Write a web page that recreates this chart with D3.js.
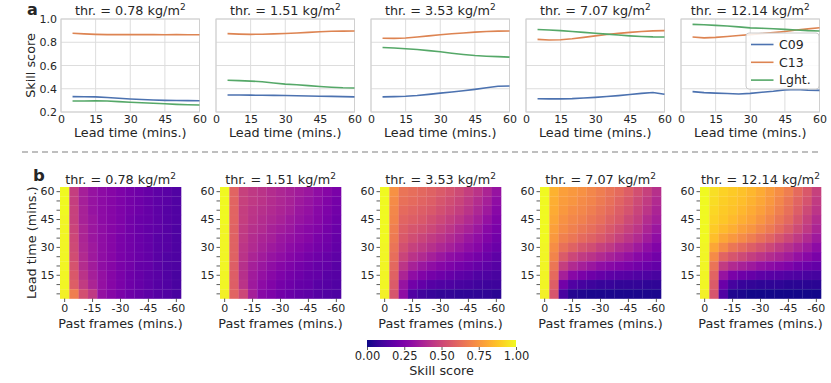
<!DOCTYPE html>
<html><head><meta charset="utf-8">
<script src="https://cdn.jsdelivr.net/npm/d3@7"></script>
<style>
body{margin:0;background:#fff}
text{font-family:"DejaVu Sans",sans-serif;fill:#262626}
</style>
</head><body><svg id="c" width="831" height="383"></svg>
<script>
// ---------- data ----------
const thresholds = ["0.78", "1.51", "3.53", "7.07", "12.14"];
const leadTimes = [5, 10, 15, 20, 25, 30, 35, 40, 45, 50, 55, 60];
const seriesNames = ["C09", "C13", "Lght."];

const c09 = [
  [0.332, 0.331, 0.330, 0.325, 0.318, 0.312, 0.307, 0.303, 0.300, 0.299, 0.298, 0.297],
  [0.346, 0.346, 0.345, 0.344, 0.343, 0.342, 0.340, 0.338, 0.336, 0.334, 0.332, 0.330],
  [0.330, 0.332, 0.335, 0.342, 0.352, 0.362, 0.372, 0.383, 0.395, 0.408, 0.422, 0.424],
  [0.314, 0.313, 0.313, 0.315, 0.320, 0.326, 0.333, 0.341, 0.350, 0.360, 0.368, 0.352],
  [0.375, 0.367, 0.362, 0.359, 0.355, 0.360, 0.370, 0.378, 0.390, 0.394, 0.388, 0.386]
];
const c13 = [
  [0.877, 0.872, 0.868, 0.866, 0.866, 0.866, 0.866, 0.866, 0.865, 0.866, 0.865, 0.864],
  [0.874, 0.870, 0.868, 0.869, 0.872, 0.875, 0.880, 0.885, 0.890, 0.894, 0.896, 0.897],
  [0.835, 0.833, 0.837, 0.845, 0.855, 0.865, 0.873, 0.880, 0.887, 0.892, 0.896, 0.897],
  [0.825, 0.820, 0.822, 0.830, 0.842, 0.855, 0.866, 0.876, 0.885, 0.892, 0.898, 0.900],
  [0.845, 0.838, 0.842, 0.850, 0.858, 0.866, 0.874, 0.883, 0.893, 0.905, 0.915, 0.925]
];
const lght = [
  [0.295, 0.295, 0.296, 0.294, 0.289, 0.284, 0.279, 0.275, 0.271, 0.266, 0.262, 0.260],
  [0.473, 0.470, 0.466, 0.460, 0.450, 0.440, 0.434, 0.427, 0.420, 0.413, 0.408, 0.406],
  [0.755, 0.750, 0.744, 0.737, 0.728, 0.718, 0.706, 0.695, 0.686, 0.680, 0.676, 0.672],
  [0.910, 0.905, 0.900, 0.893, 0.885, 0.877, 0.870, 0.862, 0.855, 0.850, 0.846, 0.845],
  [0.954, 0.950, 0.945, 0.940, 0.932, 0.924, 0.920, 0.916, 0.911, 0.906, 0.900, 0.897]
];

const xTicksTop = [0, 15, 30, 45, 60];
const yTicksTop = [0.2, 0.4, 0.6, 0.8, 1.0];

const pastFrames = [0, -5, -10, -15, -20, -25, -30, -35, -40, -45, -50, -55, -60];
const heatLeads = [60, 55, 50, 45, 40, 35, 30, 25, 20, 15, 10, 5];
const heatTicksX = [0, -15, -30, -45, -60];
const heatTicksY = [15, 30, 45, 60];
const cbarTicks = [0, 0.25, 0.5, 0.75, 1.0];

const heat078 = [
  [1.00, 0.47, 0.36, 0.32, 0.29, 0.27, 0.25, 0.23, 0.21, 0.19, 0.17, 0.16, 0.14],
  [1.00, 0.47, 0.36, 0.32, 0.29, 0.27, 0.25, 0.23, 0.21, 0.19, 0.17, 0.16, 0.14],
  [1.00, 0.48, 0.37, 0.32, 0.29, 0.27, 0.25, 0.23, 0.21, 0.19, 0.17, 0.15, 0.14],
  [0.99, 0.48, 0.37, 0.33, 0.29, 0.27, 0.25, 0.22, 0.20, 0.19, 0.17, 0.15, 0.14],
  [0.99, 0.49, 0.38, 0.33, 0.30, 0.27, 0.25, 0.22, 0.20, 0.18, 0.17, 0.15, 0.13],
  [0.99, 0.50, 0.38, 0.33, 0.30, 0.27, 0.24, 0.22, 0.20, 0.18, 0.16, 0.15, 0.13],
  [0.99, 0.51, 0.39, 0.34, 0.30, 0.27, 0.24, 0.22, 0.20, 0.18, 0.16, 0.15, 0.13],
  [0.99, 0.52, 0.40, 0.34, 0.30, 0.27, 0.24, 0.22, 0.20, 0.18, 0.16, 0.14, 0.13],
  [0.99, 0.54, 0.41, 0.35, 0.30, 0.27, 0.24, 0.22, 0.19, 0.18, 0.16, 0.14, 0.13],
  [0.99, 0.56, 0.43, 0.36, 0.31, 0.27, 0.24, 0.21, 0.19, 0.17, 0.16, 0.14, 0.12],
  [0.99, 0.58, 0.46, 0.38, 0.31, 0.27, 0.24, 0.21, 0.19, 0.17, 0.15, 0.14, 0.12],
  [0.98, 0.68, 0.53, 0.45, 0.31, 0.27, 0.24, 0.21, 0.19, 0.17, 0.15, 0.14, 0.12]
];
const heat151 = [
  [1.00, 0.60, 0.48, 0.45, 0.43, 0.41, 0.39, 0.37, 0.35, 0.33, 0.30, 0.27, 0.24],
  [1.00, 0.60, 0.48, 0.45, 0.43, 0.41, 0.39, 0.37, 0.34, 0.32, 0.29, 0.26, 0.23],
  [1.00, 0.60, 0.47, 0.44, 0.42, 0.40, 0.38, 0.36, 0.33, 0.31, 0.28, 0.25, 0.22],
  [1.00, 0.60, 0.47, 0.43, 0.41, 0.39, 0.37, 0.34, 0.32, 0.30, 0.27, 0.24, 0.21],
  [0.99, 0.59, 0.46, 0.42, 0.40, 0.37, 0.35, 0.33, 0.30, 0.28, 0.26, 0.23, 0.20],
  [0.99, 0.59, 0.45, 0.41, 0.38, 0.36, 0.33, 0.31, 0.29, 0.27, 0.24, 0.22, 0.19],
  [0.99, 0.59, 0.44, 0.40, 0.37, 0.34, 0.32, 0.29, 0.27, 0.25, 0.23, 0.21, 0.18],
  [0.99, 0.59, 0.43, 0.38, 0.35, 0.32, 0.30, 0.27, 0.25, 0.23, 0.21, 0.19, 0.17],
  [0.99, 0.58, 0.42, 0.36, 0.33, 0.30, 0.27, 0.25, 0.23, 0.21, 0.19, 0.18, 0.16],
  [0.99, 0.58, 0.42, 0.35, 0.31, 0.28, 0.25, 0.23, 0.21, 0.19, 0.18, 0.16, 0.15],
  [0.99, 0.58, 0.43, 0.34, 0.29, 0.26, 0.23, 0.21, 0.19, 0.18, 0.16, 0.15, 0.14],
  [0.98, 0.60, 0.50, 0.36, 0.28, 0.25, 0.22, 0.20, 0.18, 0.17, 0.15, 0.14, 0.13]
];
const heat353 = [
  [1.00, 0.74, 0.65, 0.63, 0.61, 0.59, 0.57, 0.54, 0.51, 0.47, 0.43, 0.38, 0.32],
  [1.00, 0.72, 0.64, 0.62, 0.60, 0.58, 0.55, 0.52, 0.49, 0.45, 0.41, 0.36, 0.30],
  [1.00, 0.71, 0.62, 0.60, 0.58, 0.56, 0.53, 0.50, 0.47, 0.43, 0.39, 0.34, 0.28],
  [1.00, 0.70, 0.60, 0.58, 0.56, 0.53, 0.50, 0.47, 0.44, 0.40, 0.36, 0.31, 0.26],
  [1.00, 0.68, 0.58, 0.55, 0.53, 0.50, 0.47, 0.44, 0.40, 0.37, 0.33, 0.28, 0.24],
  [1.00, 0.67, 0.56, 0.52, 0.49, 0.46, 0.43, 0.40, 0.37, 0.33, 0.30, 0.26, 0.22],
  [0.99, 0.65, 0.53, 0.48, 0.45, 0.42, 0.39, 0.36, 0.33, 0.30, 0.27, 0.23, 0.20],
  [0.99, 0.63, 0.49, 0.43, 0.40, 0.36, 0.33, 0.30, 0.28, 0.25, 0.23, 0.20, 0.17],
  [0.99, 0.61, 0.44, 0.37, 0.33, 0.30, 0.27, 0.25, 0.23, 0.21, 0.19, 0.17, 0.15],
  [0.99, 0.59, 0.38, 0.30, 0.26, 0.23, 0.21, 0.19, 0.17, 0.16, 0.14, 0.13, 0.12],
  [0.99, 0.57, 0.32, 0.22, 0.18, 0.15, 0.14, 0.13, 0.12, 0.11, 0.10, 0.09, 0.09],
  [0.98, 0.55, 0.30, 0.14, 0.10, 0.08, 0.07, 0.07, 0.06, 0.06, 0.06, 0.06, 0.05]
];
const heat707 = [
  [1.00, 0.83, 0.78, 0.76, 0.74, 0.71, 0.68, 0.65, 0.62, 0.58, 0.53, 0.48, 0.42],
  [1.00, 0.82, 0.77, 0.75, 0.72, 0.70, 0.67, 0.64, 0.60, 0.56, 0.51, 0.46, 0.40],
  [1.00, 0.81, 0.76, 0.73, 0.71, 0.68, 0.65, 0.62, 0.58, 0.54, 0.49, 0.44, 0.38],
  [1.00, 0.80, 0.74, 0.71, 0.69, 0.66, 0.63, 0.59, 0.56, 0.51, 0.47, 0.41, 0.36],
  [1.00, 0.78, 0.72, 0.69, 0.66, 0.63, 0.60, 0.56, 0.52, 0.48, 0.44, 0.38, 0.33],
  [1.00, 0.76, 0.69, 0.66, 0.62, 0.59, 0.56, 0.52, 0.48, 0.44, 0.40, 0.35, 0.30],
  [0.99, 0.73, 0.64, 0.59, 0.55, 0.52, 0.48, 0.45, 0.41, 0.38, 0.34, 0.30, 0.26],
  [0.99, 0.70, 0.57, 0.50, 0.46, 0.43, 0.40, 0.37, 0.34, 0.31, 0.28, 0.25, 0.22],
  [0.99, 0.66, 0.47, 0.40, 0.36, 0.33, 0.30, 0.28, 0.26, 0.24, 0.22, 0.20, 0.18],
  [0.99, 0.62, 0.36, 0.28, 0.24, 0.21, 0.19, 0.17, 0.16, 0.15, 0.14, 0.13, 0.12],
  [0.99, 0.58, 0.22, 0.14, 0.11, 0.09, 0.08, 0.08, 0.07, 0.07, 0.07, 0.06, 0.06],
  [0.98, 0.55, 0.12, 0.04, 0.03, 0.02, 0.02, 0.02, 0.02, 0.02, 0.02, 0.02, 0.02]
];
const heat1214 = [
  [1.00, 0.94, 0.91, 0.89, 0.87, 0.84, 0.81, 0.77, 0.73, 0.68, 0.62, 0.56, 0.48],
  [1.00, 0.93, 0.90, 0.88, 0.86, 0.83, 0.80, 0.76, 0.71, 0.66, 0.60, 0.54, 0.46],
  [1.00, 0.92, 0.89, 0.87, 0.84, 0.81, 0.78, 0.74, 0.69, 0.64, 0.58, 0.51, 0.44],
  [1.00, 0.91, 0.88, 0.85, 0.82, 0.79, 0.75, 0.71, 0.66, 0.61, 0.55, 0.48, 0.41],
  [1.00, 0.89, 0.85, 0.82, 0.78, 0.75, 0.71, 0.67, 0.62, 0.57, 0.51, 0.45, 0.38],
  [1.00, 0.86, 0.80, 0.76, 0.72, 0.68, 0.64, 0.60, 0.55, 0.50, 0.45, 0.40, 0.34],
  [0.99, 0.80, 0.72, 0.66, 0.62, 0.58, 0.54, 0.50, 0.46, 0.42, 0.38, 0.34, 0.29],
  [0.99, 0.72, 0.60, 0.55, 0.51, 0.47, 0.44, 0.41, 0.38, 0.35, 0.31, 0.28, 0.24],
  [0.99, 0.65, 0.46, 0.40, 0.37, 0.34, 0.31, 0.29, 0.27, 0.25, 0.22, 0.20, 0.18],
  [0.99, 0.60, 0.32, 0.24, 0.21, 0.19, 0.17, 0.16, 0.15, 0.14, 0.13, 0.12, 0.11],
  [0.99, 0.57, 0.20, 0.11, 0.08, 0.07, 0.06, 0.06, 0.06, 0.05, 0.05, 0.05, 0.05],
  [0.98, 0.55, 0.14, 0.03, 0.02, 0.01, 0.01, 0.01, 0.01, 0.01, 0.01, 0.01, 0.01]
];
const heatmaps = [heat078, heat151, heat353, heat707, heat1214];

// ---------- drawing ----------
const svg = d3.select("#c");
const colors = ["#4c72b0", "#dd8452", "#55a868"];
const gridCol = "#dddddd";
const FS_T = 12.8, FS_K = 11;

function title(g, cx, y, thr) {
  const t = g.append("text").attr("x", cx).attr("y", y).attr("text-anchor", "middle")
    .style("font-size", FS_T + "px");
  t.append("tspan").text("thr. = " + thr + " kg/m");
  t.append("tspan").attr("dy", -5).style("font-size", "9px").text("2");
}

// Top row (a)
const topY0 = 19, topY1 = 112, topW = 138.5;
const yTop = d3.scaleLinear().domain([0.2, 1.0]).range([topY1, topY0]);
thresholds.forEach((thr, p) => {
  const x0 = 61 + p * 155;
  const x = d3.scaleLinear().domain([0, 60]).range([x0, x0 + topW]);
  const g = svg.append("g");
  g.selectAll(".gx").data(xTicksTop).enter().append("line")
    .attr("x1", d => x(d)).attr("x2", d => x(d)).attr("y1", topY0).attr("y2", topY1)
    .attr("stroke", gridCol).attr("stroke-width", 1);
  g.selectAll(".gy").data(yTicksTop).enter().append("line")
    .attr("x1", x0).attr("x2", x0 + topW).attr("y1", d => yTop(d)).attr("y2", d => yTop(d))
    .attr("stroke", gridCol).attr("stroke-width", 1);
  g.append("rect").attr("x", x0).attr("y", topY0).attr("width", topW).attr("height", topY1 - topY0)
    .attr("fill", "none").attr("stroke", "#d0d0d0").attr("stroke-width", 1);
  const line = d3.line().x((d, i) => x(leadTimes[i])).y(d => yTop(d)).curve(d3.curveLinear);
  [c09[p], c13[p], lght[p]].forEach((s, k) => {
    g.append("path").attr("d", line(s)).attr("fill", "none")
      .attr("stroke", colors[k]).attr("stroke-width", 1.6);
  });
  const ax = g.append("g").attr("transform", `translate(0,${topY1})`)
    .call(d3.axisBottom(x).tickValues(xTicksTop).tickSize(0).tickPadding(3.5));
  ax.select(".domain").remove();
  ax.selectAll("text").style("font-size", FS_K + "px").style("font-family", "DejaVu Sans").attr("fill", "#262626");
  if (p === 0) {
    const ay = g.append("g").attr("transform", `translate(${x0},0)`)
      .call(d3.axisLeft(yTop).tickValues(yTicksTop).tickFormat(d3.format(".1f")).tickSize(0).tickPadding(4));
    ay.select(".domain").remove();
    ay.selectAll("text").style("font-size", FS_K + "px").style("font-family", "DejaVu Sans").attr("fill", "#262626");
    g.append("text").attr("transform", `translate(31,${(topY0 + topY1) / 2}) rotate(-90)`)
      .attr("text-anchor", "middle").attr("dy", "0.35em").style("font-size", FS_T + "px").text("Skill score");
  }
  g.append("text").attr("x", x0 + topW / 2).attr("y", 137).attr("text-anchor", "middle")
    .style("font-size", FS_T + "px").text("Lead time (mins.)");
  title(g, x0 + topW / 2, 14.5, thr);
  if (p === 4) {
    const lg = g.append("g");
    lg.append("rect").attr("x", 746).attr("y", 33).attr("width", 73).attr("height", 56).attr("rx", 3)
      .attr("fill", "#fff").attr("fill-opacity", 0.85).attr("stroke", "#cccccc");
    seriesNames.forEach((n, k) => {
      const yy = 44.5 + k * 17.8;
      lg.append("line").attr("x1", 751).attr("x2", 773.5).attr("y1", yy).attr("y2", yy)
        .attr("stroke", colors[k]).attr("stroke-width", 1.6);
      lg.append("text").attr("x", 779).attr("y", yy).attr("dy", "0.35em")
        .style("font-size", "12.5px").text(n);
    });
  }
});

svg.append("text").attr("x", 27).attr("y", 15).style("font-size", "16px").style("font-weight", "bold")
  .attr("fill", "#000").text("a");
svg.append("text").attr("x", 33).attr("y", 181).style("font-size", "16.5px").style("font-weight", "bold")
  .attr("fill", "#000").text("b");

svg.append("line").attr("x1", 22).attr("x2", 822).attr("y1", 152).attr("y2", 152)
  .attr("stroke", "#aaaaaa").attr("stroke-width", 1.5).attr("stroke-dasharray", "6,4");

// Bottom row (b)
const color = d3.scaleSequential(d3.interpolatePlasma).domain([0, 1]);
const hY0 = 187, hH = 111.5, hW = 121;
const yBand = d3.scaleBand().domain(heatLeads).range([hY0, hY0 + hH]);
thresholds.forEach((thr, p) => {
  const x0 = 60 + p * 160;
  const xBand = d3.scaleBand().domain(pastFrames).range([x0, x0 + hW]);
  const g = svg.append("g");
  const data = heatmaps[p];
  data.forEach((row, i) => {
    row.forEach((v, j) => {
      g.append("rect").attr("x", xBand(pastFrames[j])).attr("y", yBand(heatLeads[i]))
        .attr("width", xBand.bandwidth() + 0.3).attr("height", yBand.bandwidth() + 0.3)
        .attr("fill", color(v));
    });
  });
  pastFrames.slice(1).forEach(f => {
    g.append("line").attr("x1", xBand(f)).attr("x2", xBand(f)).attr("y1", hY0).attr("y2", hY0 + hH)
      .attr("stroke", "#fff").attr("stroke-opacity", 0.08).attr("stroke-width", 0.6);
  });
  heatLeads.slice(1).forEach(l => {
    g.append("line").attr("x1", x0).attr("x2", x0 + hW).attr("y1", yBand(l)).attr("y2", yBand(l))
      .attr("stroke", "#fff").attr("stroke-opacity", 0.08).attr("stroke-width", 0.6);
  });
  const ay = g.append("g").attr("transform", `translate(${x0},0)`)
    .call(d3.axisLeft(yBand).tickValues(heatLeads)
      .tickFormat(d => heatTicksY.includes(d) ? String(d) : "").tickSize(3.5).tickPadding(2));
  ay.select(".domain").remove();
  ay.selectAll("line").attr("stroke", "#333").attr("stroke-width", 0.8);
  ay.selectAll("text").style("font-size", FS_K + "px").style("font-family", "DejaVu Sans").attr("fill", "#262626");
  const ax = g.append("g").attr("transform", `translate(0,${hY0 + hH})`)
    .call(d3.axisBottom(xBand).tickValues(heatTicksX).tickSize(3.5).tickPadding(2.5));
  ax.select(".domain").remove();
  ax.selectAll("line").attr("stroke", "#333").attr("stroke-width", 0.8);
  ax.selectAll("text").style("font-size", FS_K + "px").style("font-family", "DejaVu Sans").attr("fill", "#262626");
  g.append("text").attr("x", x0 + hW / 2).attr("y", 328).attr("text-anchor", "middle")
    .style("font-size", FS_T + "px").text("Past frames (mins.)");
  if (p === 0) {
    g.append("text").attr("transform", `translate(32,${hY0 + hH / 2}) rotate(-90)`)
      .attr("text-anchor", "middle").attr("dy", "0.35em").style("font-size", FS_T + "px").text("Lead time (mins.)");
  }
  title(g, x0 + hW / 2, 184, thr);
});

// colorbar
const cx = d3.scaleLinear().domain([0, 1]).range([367, 516]);
const defs = svg.append("defs");
const grad = defs.append("linearGradient").attr("id", "plasma").attr("x1", "0%").attr("x2", "100%");
d3.range(0, 1.0001, 0.05).forEach(t => {
  grad.append("stop").attr("offset", (t * 100) + "%").attr("stop-color", color(t));
});
svg.append("rect").attr("x", cx(0)).attr("y", 340).attr("width", cx(1) - cx(0)).attr("height", 7)
  .attr("fill", "url(#plasma)");
const cb = svg.append("g").attr("transform", "translate(0,347)")
  .call(d3.axisBottom(cx).tickValues(cbarTicks).tickFormat(d3.format(".2f")).tickSize(3).tickPadding(2));
cb.select(".domain").remove();
cb.selectAll("line").attr("stroke", "#333").attr("stroke-width", 0.8);
cb.selectAll("text").style("font-size", "11.5px").style("font-family", "DejaVu Sans").attr("fill", "#262626");
svg.append("text").attr("x", cx(0.5)).attr("y", 375).attr("text-anchor", "middle")
  .style("font-size", FS_T + "px").text("Skill score");
</script>
</body></html>
